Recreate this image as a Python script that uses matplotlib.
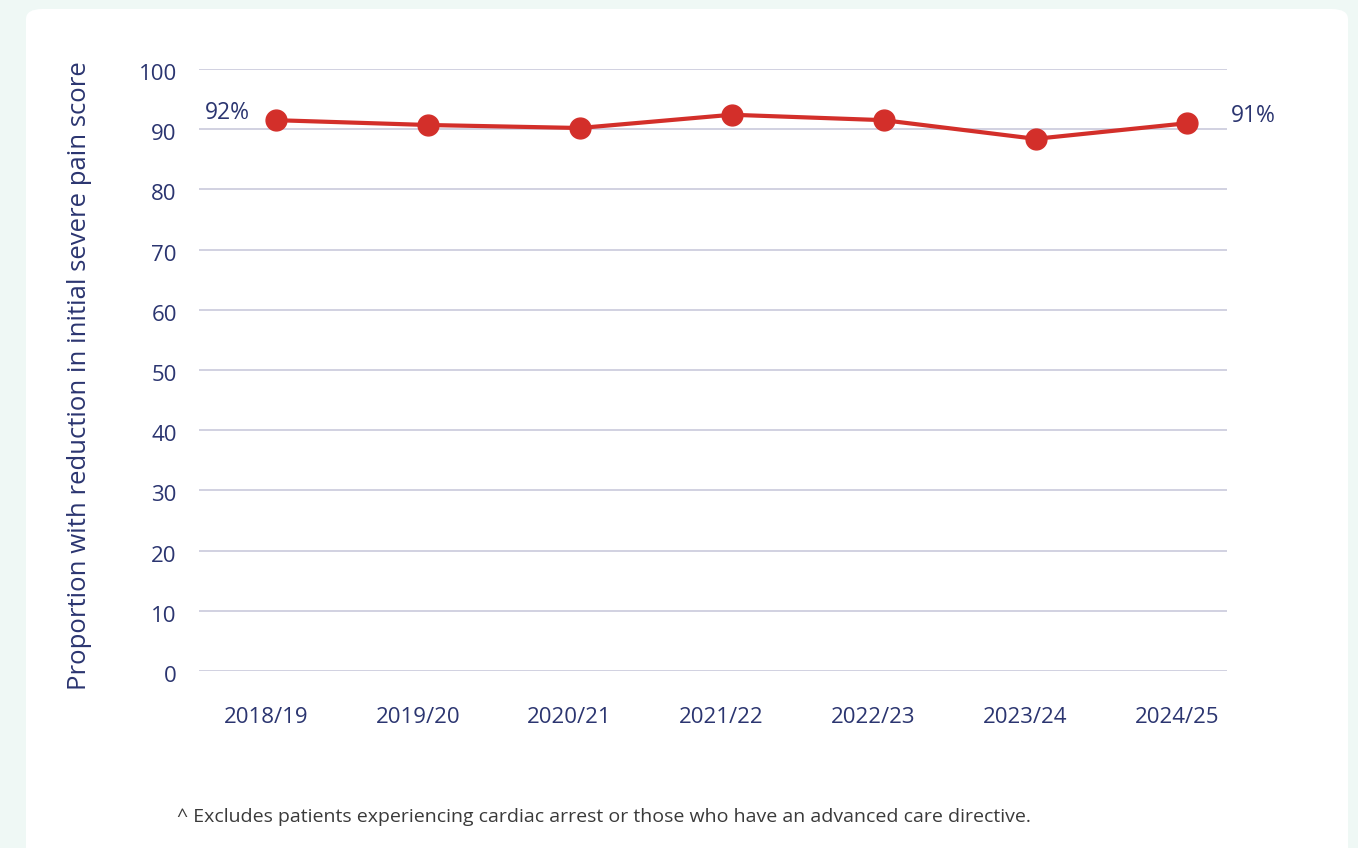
import matplotlib.pyplot as plt
import matplotlib.transforms as mtransforms
from matplotlib.patches import FancyBboxPatch

years = ['2018/19', '2019/20', '2020/21', '2021/22', '2022/23', '2023/24', '2024/25']
values = [91.5, 90.7, 90.2, 92.4, 91.5, 88.4, 91.0]
first_label = '92%'
last_label = '91%'
yticks = [0, 10, 20, 30, 40, 50, 60, 70, 80, 90, 100]

navy = '#2b3570'
red = '#d32f2a'
grid = '#c9c9dc'

plt.rcParams['font.family'] = ['Open Sans', 'DejaVu Sans']

W, H = 1358, 848
fig = plt.figure(figsize=(W / 100, H / 100), dpi=100)
fig.patch.set_facecolor('#eff8f5')

# white card behind the chart
card = FancyBboxPatch((26 / W, -0.05), (1348 - 26) / W, 1 - 9 / H + 0.05,
                      boxstyle='round,pad=0,rounding_size=0.012',
                      transform=fig.transFigure, facecolor='white',
                      edgecolor='none', zorder=-10)
fig.patches.append(card)

ax = fig.add_axes([199 / W, 1 - 671 / H, (1227 - 199) / W, (671 - 69) / H])
ax.set_facecolor('none')

x = list(range(len(years)))
ax.plot(x, values, color=red, lw=3, marker='o', ms=15, zorder=3, clip_on=False)

ax.set_ylim(0, 100)
ax.set_xlim(-0.505, 6.26)
ax.set_yticks(yticks)
ax.set_xticks(x)
ax.set_xticklabels(years)
ax.yaxis.grid(True, color=grid, lw=1.2)
ax.set_axisbelow(True)
for s in ax.spines.values():
    s.set_visible(False)
ax.tick_params(axis='y', length=0, pad=16, labelsize=16, labelcolor=navy)
ax.tick_params(axis='x', length=0, pad=26, labelsize=16, labelcolor=navy)

# year labels sit slightly left of the points in the original
shift = mtransforms.ScaledTranslation(-10 / 100, 0, fig.dpi_scale_trans)
for lbl in ax.get_xticklabels():
    lbl.set_transform(lbl.get_transform() + shift)
# value labels sit a touch below their gridlines
yshift = mtransforms.ScaledTranslation(0, -3 / 100, fig.dpi_scale_trans)
for lbl in ax.get_yticklabels():
    lbl.set_transform(lbl.get_transform() + yshift)

fig.text(80 / W, 1 - 376 / H, 'Proportion with reduction in initial severe pain score',
         rotation=90, fontsize=18.5, color=navy, ha='center', va='center')

ax.annotate(first_label, (x[0], values[0]), xytext=(-18.5, 5.5), textcoords='offset points',
            fontsize=16.5, color=navy, ha='right', va='center')
ax.annotate(last_label, (x[-1], values[-1]), xytext=(31, 5.5), textcoords='offset points',
            fontsize=16.5, color=navy, ha='left', va='center')

fig.text(177 / W, 1 - 817 / H,
         '^ Excludes patients experiencing cardiac arrest or those who have an advanced care directive.',
         fontsize=14, color='#3a3a3a', ha='left', va='center')

fig.savefig('out.png', dpi=100, facecolor=fig.get_facecolor())
